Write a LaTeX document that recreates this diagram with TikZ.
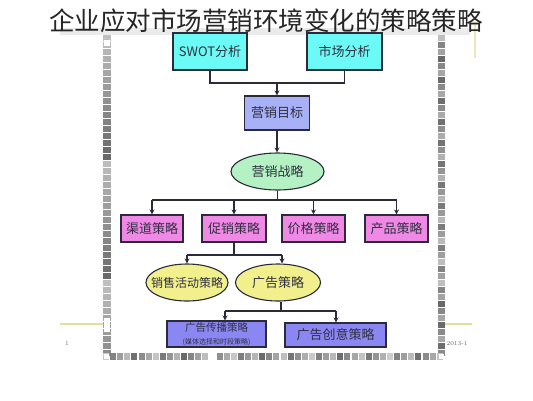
\documentclass[tikz,border=0pt]{standalone}
\usepackage{fontspec}
\newfontfamily\cjk{Noto Sans CJK SC}
\usetikzlibrary{shapes.geometric,arrows.meta}
\definecolor{cyanfill}{HTML}{6CFAF6}
\definecolor{lavfill}{HTML}{A8B0F6}
\definecolor{greenfill}{HTML}{B4F2C4}
\definecolor{pinkfill}{HTML}{F088E6}
\definecolor{yelfill}{HTML}{F2F08C}
\definecolor{purfill}{HTML}{8A86F2}
\definecolor{edge}{HTML}{2A2A3A}
\definecolor{txt}{HTML}{303040}
\definecolor{yline}{HTML}{E6DE9C}
\tikzset{
  base/.style={draw=edge, line width=1.1pt, inner sep=0pt, text=txt, font=\cjk\fontsize{13}{14}\selectfont},
  rbox/.style={base, rectangle},
  ebox/.style={base, ellipse},
  conn/.style={draw=edge, line width=1.4pt},
  arr/.style={conn, -{Stealth[length=5pt,width=5pt]}},
}
\begin{document}
\begin{tikzpicture}[x=1pt,y=-1pt]
\useasboundingbox (0,0) rectangle (533,400);
\fill[white] (0,0) rectangle (533,400);
% slide frame
\fill[black!8] (60,28) rectangle (470,35);
\foreach \i in {0,...,45} {
  \pgfmathtruncatemacro\s{25+mod(\i*37,35)}
  \fill[black!\s] (103,{35+\i*7}) rectangle (111,{41+\i*7});
  \pgfmathtruncatemacro\t{25+mod(\i*23,35)}
  \fill[black!\t] (438,{35+\i*7}) rectangle (445,{41+\i*7});
}
\fill[white] (104,318) rectangle (110,332);
\fill[white] (104,40) rectangle (110,46);
\foreach \i in {0,...,47} {
  \pgfmathtruncatemacro\s{20+mod(\i*29,40)}
  \fill[black!\s] ({103+\i*7.1},353) rectangle ({109+\i*7.1},360);
}
\fill[white] (210,352) rectangle (217,361);
\fill[white] (104,354) rectangle (109,359);
\fill[white] (439,354) rectangle (444,359);
\draw[yline, line width=1.5pt] (60,324) -- (103,324);
\draw[yline, line width=1.5pt] (445,324) -- (472,324);
\draw[yline!70, line width=1.2pt] (475,22) -- (475,58);
\node[font=\fontsize{6}{6}\selectfont, text=black!60] (pg) at (67,343) {1};
\node[font=\fontsize{6}{6}\selectfont, text=black!60] (dt) at (457,344) {2013-1};
% title
\node[font=\cjk\fontsize{25.5}{26}\selectfont, text=black!85] (title) at (266,21) {企业应对市场营销环境变化的策略策略};
% nodes
\node[rbox, fill=cyanfill, minimum width=74pt, minimum height=37pt] (swot) at (210,51.5) {SWOT分析};
\node[rbox, fill=cyanfill, minimum width=75pt, minimum height=37pt] (market) at (344.5,51.5) {市场分析};
\node[rbox, fill=lavfill, minimum width=65pt, minimum height=34pt] (goal) at (277,113) {营销目标};
\node[ebox, fill=greenfill, minimum width=93pt, minimum height=37pt] (strat) at (277.5,171.5) {\makebox[0pt]{营销战略}};
\node[rbox, fill=pinkfill, minimum width=62pt, minimum height=27pt] (channel) at (152,228.5) {渠道策略};
\node[rbox, fill=pinkfill, minimum width=64pt, minimum height=27pt] (promo) at (234,228.5) {促销策略};
\node[rbox, fill=pinkfill, minimum width=63pt, minimum height=27pt] (price) at (313.5,228.5) {价格策略};
\node[rbox, fill=pinkfill, minimum width=63pt, minimum height=27pt] (product) at (396.5,228.5) {产品策略};
\node[ebox, fill=yelfill, minimum width=82pt, minimum height=37pt, font=\cjk\fontsize{12}{13}\selectfont] (sales) at (187,282.5) {\makebox[0pt]{销售活动策略}};
\node[ebox, fill=yelfill, minimum width=85pt, minimum height=37pt] (ad) at (278,282.5) {\makebox[0pt]{广告策略}};
\node[rbox, fill=purfill, minimum width=99pt, minimum height=26pt, align=center] (media) at (216.5,334)
  {{\fontsize{10.5}{10.5}\selectfont 广告传播策略}\\[-1pt]{\fontsize{7}{8}\selectfont (媒体选择和时段策略)}};
\node[rbox, fill=purfill, minimum width=101pt, minimum height=24pt] (creative) at (335.5,335) {广告创意策略};
% connectors
\coordinate (j1) at (277,83);
\draw[conn] (swot.south) |- (j1) -| (market.south);
\draw[arr] (j1) -- (goal.north -| j1);
\draw[arr] (goal.south) -- (goal.south |- strat.north);
\coordinate (j2) at (277.5,200);
\draw[conn] (strat.south) -- (j2);
\draw[conn] (channel.north |- j2) -- (product.north |- j2);
\draw[arr] (channel.north |- j2) -- (channel.north);
\draw[arr] (promo.north |- j2) -- (promo.north);
\draw[arr] (price.north |- j2) -- (price.north);
\draw[arr] (product.north |- j2) -- (product.north);
\coordinate (j3) at (234,255);
\draw[conn] (promo.south) -- (j3);
\coordinate (a0) at (282,255);
\draw[conn] (sales.north |- j3) -- (a0);
\draw[arr] (sales.north |- j3) -- (sales.north);
\draw[arr] (a0) -- (a0 |- ad.north);
\coordinate (j4) at (281,311);
\draw[conn] (j4 |- ad.south) -- (j4);
\coordinate (a1) at (225,311);
\coordinate (a2) at (336,311);
\draw[conn] (a1) -- (a2);
\draw[arr] (a1) -- (a1 |- media.north);
\draw[arr] (a2) -- (a2 |- creative.north);
\end{tikzpicture}
\end{document}
